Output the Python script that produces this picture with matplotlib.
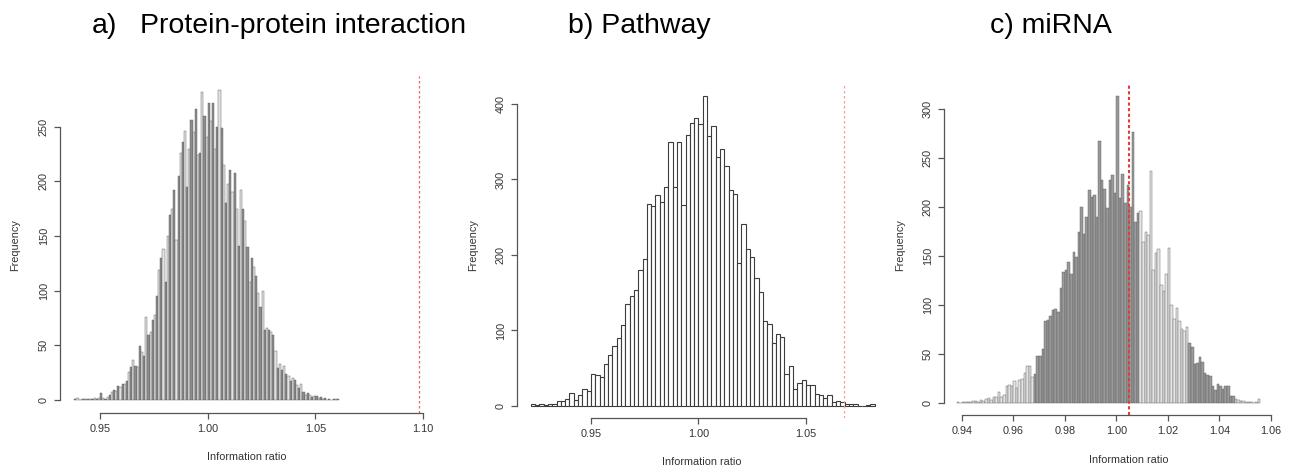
"""
Null distributions of the information ratio for three network types
"""
import numpy as np
import matplotlib
matplotlib.use("Agg")
import matplotlib.pyplot as plt

plt.rcParams['font.family'] = ['Liberation Sans', 'DejaVu Sans']

# ---- data ----
titles = ["Protein-protein interaction", "Pathway", "miRNA"]
letters = ["a)", "b)", "c)"]

a_bin_start = 0.938
a_bin_width = 0.001
a_counts = [1, 2, 0, 1, 1, 1, 1, 1, 1, 2, 1, 2, 6, 2, 1, 3, 5, 7, 9, 8,
            13, 12, 15, 15, 17, 26, 30, 37, 31, 30, 49, 44, 40, 76, 59, 62, 73, 78, 95, 119,
            130, 138, 108, 150, 169, 175, 192, 146, 205, 226, 236, 246, 195, 230, 256, 245, 266, 224, 226, 282,
            260, 241, 272, 255, 272, 230, 250, 284, 249, 215, 180, 198, 210, 190, 208, 175, 141, 192, 175, 164,
            140, 108, 130, 122, 113, 98, 85, 100, 64, 66, 64, 62, 59, 45, 29, 33, 27, 31, 24, 22,
            17, 20, 18, 14, 11, 15, 7, 5, 6, 5, 3, 4, 4, 2, 3, 1, 2, 0, 1, 0,
            1, 1, 1]
a_ref = 1.098
a_xticks = [0.95, 1.00, 1.05, 1.10]
a_yticks = [0, 50, 100, 150, 200, 250]

b_bin_start = 0.922
b_bin_width = 0.002
b_counts = [2, 1, 2, 1, 3, 3, 6, 6, 9, 17, 8, 14, 22, 20,
            42, 41, 39, 56, 68, 79, 90, 107, 135, 146, 153, 180, 194,
            267, 265, 279, 270, 290, 349, 290, 350, 266, 359, 375, 382, 373, 410,
            357, 371, 330, 340, 318, 286, 281, 190, 241, 208, 197, 170, 151, 113, 109, 83, 95, 92,
            42, 53, 22, 31, 35, 28, 28, 16, 14, 10, 14, 5, 7, 5, 3, 2, 2, 0, 0, 1, 2]
b_ref = 1.0678
b_xticks = [0.95, 1.00, 1.05]
b_yticks = [0, 100, 200, 300, 400]

c_bin_start = 0.938
c_bin_width = 0.001
c_counts = [1, 0, 1, 1, 1, 1, 2, 2, 1, 3, 2, 4, 5, 3, 6, 6, 11, 6, 8, 17,
            18, 17, 22, 15, 24, 25, 31, 38, 38, 27, 30, 48, 48, 55, 84, 85, 89, 95, 96, 93,
            117, 134, 136, 144, 132, 154, 149, 175, 200, 172, 190, 217, 210, 212, 190, 267, 228, 218, 199, 228,
            233, 214, 313, 209, 234, 204, 222, 200, 277, 185, 194, 196, 164, 174, 171, 237, 136, 153, 157, 120,
            114, 132, 158, 100, 86, 97, 84, 76, 74, 78, 61, 57, 40, 41, 47, 42, 31, 29, 28, 17,
            13, 19, 17, 14, 17, 17, 7, 7, 4, 3, 2, 2, 1, 1, 1, 0, 1, 4]
c_ref = 1.0049
c_xticks = [0.94, 0.96, 0.98, 1.00, 1.02, 1.04, 1.06]
c_yticks = [0, 50, 100, 150, 200, 250, 300]

W, H = 1289, 467
fig = plt.figure(figsize=(W / 100, H / 100), dpi=100)
fig.patch.set_facecolor("white")


def add_panel(left, right, top, bottom):
    return fig.add_axes([left / W, 1 - bottom / H, (right - left) / W, (bottom - top) / H])


def style_axes(ax, xticks, yticks, xfmt):
    for side in ("top", "right"):
        ax.spines[side].set_visible(False)
    ax.spines["left"].set_bounds(yticks[0], yticks[-1])
    ax.spines["bottom"].set_bounds(xticks[0], xticks[-1])
    for side in ("left", "bottom"):
        ax.spines[side].set_color("#555555")
        ax.spines[side].set_linewidth(0.9)
    ax.set_xticks(xticks)
    ax.set_xticklabels([xfmt % t for t in xticks])
    ax.set_yticks(yticks)
    ax.set_yticklabels([str(t) for t in yticks], rotation=90, va="center")
    ax.tick_params(axis="both", length=4, width=0.9, color="#555555",
                   labelsize=7.8, labelcolor="#333333", pad=4)
    ax.patch.set_alpha(0)


def draw_hist(ax, start, width, counts, faces, edge, lw):
    lefts = np.round(start + width * np.arange(len(counts)), 4)
    ax.bar(lefts, counts, width=width, align="edge", color=faces,
           edgecolor=edge, linewidth=lw)


# a) protein-protein interaction
ax_a = add_panel(60, 432.5, 76, 413)
faces_a = ["#8c8c8c" if i % 2 == 0 else "#e2e2e2" for i in range(len(a_counts))]
draw_hist(ax_a, a_bin_start, a_bin_width, a_counts, faces_a, "#5a5a5a", 0.3)
ax_a.axvline(a_ref, color="#f06060", linestyle=(0, (2, 2)), linewidth=0.9)
ax_a.set_xlim(0.9314, 1.1044)
ax_a.set_ylim(-11.9, 296.4)
style_axes(ax_a, a_xticks, a_yticks, "%.2f")

# b) pathway
ax_b = add_panel(517, 888.5, 84, 418)
draw_hist(ax_b, b_bin_start, b_bin_width, b_counts, "white", "#3c3c3c", 0.8)
ax_b.axvline(b_ref, color="#ff9a9a", linestyle=(0, (2, 2)), linewidth=0.9)
ax_b.set_xlim(0.9156, 1.0884)
ax_b.set_ylim(-15.9, 426.4)
style_axes(ax_b, b_xticks, b_yticks, "%.2f")

# c) miRNA
ax_c = add_panel(944, 1272.6, 84, 415)
c_lefts = c_bin_start + c_bin_width * np.arange(len(c_counts))
faces_c = []
for x in c_lefts:
    light = x < 0.9675 or 1.0085 <= x < 1.0275 or x >= 1.0455
    faces_c.append("#e4e4e4" if light else "#9a9a9a")
draw_hist(ax_c, c_bin_start, c_bin_width, c_counts, faces_c, "#5a5a5a", 0.3)
ax_c.axvline(c_ref, color="#e03c3c", linestyle=(0, (1.5, 1.2)), linewidth=1.5)
ax_c.set_xlim(0.9331, 1.0607)
ax_c.set_ylim(-12.2, 325.5)
style_axes(ax_c, c_xticks, c_yticks, "%.2f")

# axis titles
for x, y in [(15, 245), (473, 245), (900, 245)]:
    fig.text(x / W, 1 - y / H, "Frequency", rotation=90, ha="center", va="center",
             fontsize=7.8, color="#333333")
for x, y in [(247, 457), (702, 462), (1129, 460)]:
    fig.text(x / W, 1 - y / H, "Information ratio", ha="center", va="center",
             fontsize=7.8, color="#333333")

# panel headings
fig.text(92 / W, 1 - 26 / H, letters[0], ha="left", va="center", fontsize=20.5)
fig.text(140 / W, 1 - 26 / H, titles[0], ha="left", va="center", fontsize=20.5)
fig.text(568 / W, 1 - 26 / H, letters[1] + " " + titles[1], ha="left", va="center", fontsize=20.5)
fig.text(990 / W, 1 - 26 / H, letters[2] + " " + titles[2], ha="left", va="center", fontsize=20.5)

fig.savefig("out.png", dpi=100, facecolor="white")
